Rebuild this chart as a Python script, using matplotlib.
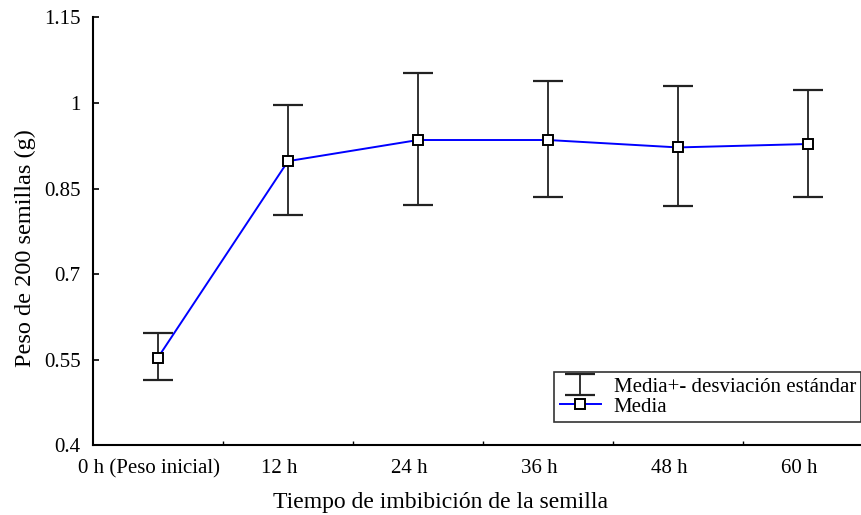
import numpy as np
from matplotlib import pyplot as plt
from matplotlib.transforms import ScaledTranslation

plt.rcParams['font.family'] = ['Liberation Serif', 'DejaVu Serif']

labels = ["0 h (Peso inicial)", "12 h", "24 h", "36 h", "48 h", "60 h"]
means = [0.554, 0.898, 0.935, 0.935, 0.922, 0.928]
lower = [0.515, 0.804, 0.821, 0.835, 0.819, 0.835]
upper = [0.597, 0.996, 1.052, 1.039, 1.030, 1.023]

x = np.arange(len(labels))
means = np.array(means)
yerr = [means - np.array(lower), np.array(upper) - means]

fig = plt.figure(figsize=(8.61, 5.15), dpi=100)
ax = fig.add_axes([0.108, 0.135, 0.906, 0.8315])

eb = ax.errorbar(x, means, yerr=yerr, fmt='none', ecolor='#222222',
                 elinewidth=1.3, capsize=11, capthick=1.6,
                 label="Media+- desviación estándar")
line, = ax.plot(x, means, color='blue', linewidth=1.4, marker='s', markersize=7,
                markerfacecolor='white', markeredgecolor='black', markeredgewidth=1.4,
                label="Media", zorder=3)

ax.set_xlim(-0.5, 5.5)
ax.set_ylim(0.4, 1.15)
ax.set_yticks([0.4, 0.55, 0.7, 0.85, 1.0, 1.15])
ax.set_yticklabels(["0.4", "0.55", "0.7", "0.85", "1", "1.15"])
ax.set_xticks(x)
ax.set_xticklabels(labels)
ax.set_xticks(np.arange(0.5, 5.5, 1), minor=True)

ax.tick_params(axis='y', direction='in', length=4, width=1.2, pad=9, labelsize=15)
ax.tick_params(axis='x', which='major', length=0, pad=10, labelsize=15)
ax.tick_params(axis='x', which='minor', direction='in', length=3, width=1)

# category labels sit a little left of the points in the original
shift = ScaledTranslation(-0.09, 0, fig.dpi_scale_trans)
for lab in ax.get_xticklabels():
    lab.set_transform(lab.get_transform() + shift)

for s in ['top', 'right']:
    ax.spines[s].set_visible(False)
for s in ['left', 'bottom']:
    ax.spines[s].set_linewidth(1.5)

ax.set_xlabel("Tiempo de imbibición de la semilla", fontsize=17, va='center')
ax.xaxis.set_label_coords(0.445, -0.132)
ax.set_ylabel("Peso de 200 semillas (g)", fontsize=17.5, va='center')
ax.yaxis.set_label_coords(-0.087, 0.461)

leg = ax.legend(handles=[eb, line], loc='lower right', bbox_to_anchor=(0.985, 0.055),
                fontsize=15, frameon=True, fancybox=False, edgecolor='black',
                borderpad=0.25, labelspacing=0.0, handlelength=2.0,
                handletextpad=0.6, borderaxespad=0)
leg.get_frame().set_linewidth(1.2)

fig.savefig("out.png", dpi=100)
